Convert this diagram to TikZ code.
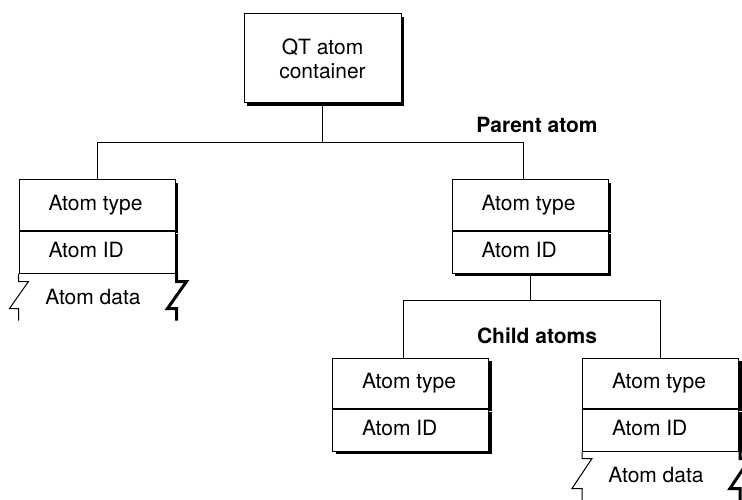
\documentclass[tikz,border=0pt]{standalone}
\usepackage{fontspec}
\setmainfont{TeX Gyre Heros}
\usetikzlibrary{shadows}

\tikzset{
  base/.style={draw, fill=white, line width=1pt, inner sep=0pt, font=\fontsize{21}{24}\selectfont},
  row/.style={base, minimum width=156pt, inner xsep=29.5pt, text width=97pt, align=flush left, text height=15pt, text depth=4pt},
  typerow/.style={row, minimum height=50pt},
  idrow/.style={row, minimum height=42pt},
  shadowed/.style={general shadow={fill=black, shadow xshift=3pt, shadow yshift=-3pt}},
  datatext/.style={font=\fontsize{21}{24}\selectfont, text height=15pt, text depth=4pt},
  heading/.style={font=\bfseries\fontsize{21}{24}\selectfont},
  link/.style={line width=1pt},
  tear/.style={line width=1pt},
  tearshadow/.style={line width=3pt},
}

\begin{document}
\begin{tikzpicture}[x=1pt, y=-1pt]
    \clip (0,0) rectangle (742,500);
    \useasboundingbox (0,0) rectangle (742,500);

    % container
    \node[base, shadowed, minimum width=157pt, minimum height=89pt, align=center] (qt) at (322.5,58.5) {QT atom\\container};

    % left atom
    \node[typerow, shadowed] (lt) at (97,205) {Atom type};
    \node[idrow, shadowed, anchor=north] (li) at (lt.south) {Atom ID};
    \fill[white] ([yshift=-0.6pt]li.south west) rectangle ++(161,50);
    \draw[tear] (li.south west) -- ++(0,8) -- ++(10,0) -- ++(-19,27) -- ++(9,0) -- ++(0,12);
    \draw[tearshadow] ([xshift=1pt]li.south east) -- ++(0,8) -- ++(10,0) -- ++(-19,27) -- ++(9,0) -- ++(0,12);
    \node[datatext] (ld) at (93,299) {Atom data};

    % parent atom
    \node[typerow, shadowed] (pt) at (530,205) {Atom type};
    \node[idrow, shadowed, anchor=north] (pi) at (pt.south) {Atom ID};

    % child atoms
    \node[typerow, shadowed] (c1t) at (410.5,383) {Atom type};
    \node[idrow, shadowed, anchor=north] (c1i) at (c1t.south) {Atom ID};

    \node[typerow, shadowed] (c2t) at (660.5,383) {Atom type};
    \node[idrow, shadowed, anchor=north] (c2i) at (c2t.south) {Atom ID};
    \fill[white] ([yshift=-0.6pt]c2i.south west) rectangle ++(161,60);
    \draw[tear] (c2i.south west) -- ++(0,7) -- ++(10,0) -- ++(-20,30) -- ++(10,0) -- ++(0,20);
    \draw[tearshadow] ([xshift=1pt]c2i.south east) -- ++(0,7) -- ++(10,0) -- ++(-20,30) -- ++(10,0) -- ++(0,20);
    \node[datatext] (c2d) at (656,477) {Atom data};

    % labels
    \node[heading] (parentlbl) at (537,125) {Parent atom};
    \node[heading] (childlbl) at (537,336) {Child atoms};

    % tree lines
    \coordinate (pjoin) at (523,143);
    \coordinate (cjoin) at (403,300);
    \draw[link] (qt.south) -- (qt.south |- pjoin);
    \draw[link] (lt.north) |- (pjoin) -- (pjoin |- pt.north);
    \draw[link] (pi.south) -- (pi.south |- cjoin);
    \draw[link] (cjoin |- c1t.north) -- (cjoin) -| (c2t.north);
\end{tikzpicture}
\end{document}
